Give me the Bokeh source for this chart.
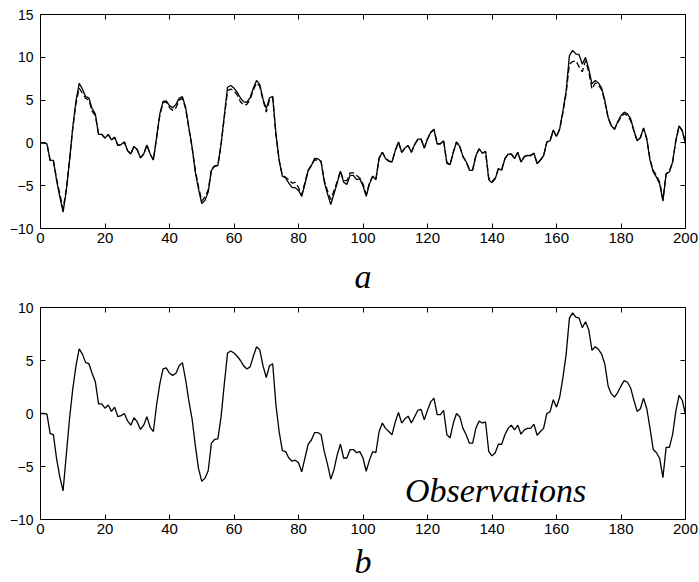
from bokeh.plotting import figure
from bokeh.models import Range1d, FixedTicker, LinearAxis, CustomJSTickFormatter, Label
from bokeh.layouts import column
from bokeh.embed import file_html
from bokeh.resources import INLINE

# ---------------- data ----------------
t = list(range(201))

a_solid = [
    0, 0, -0.1, -2.0, -2.05, -4.4, -6.3, -8.1, -5.6, -2.1,
    1.8, 4.9, 6.95, 6.3, 5.4, 5.25, 4.0, 3.4, 1.0, 1.0,
    0.55, 1.0, 0.35, 0.65, -0.3, -0.2, 0.1, -0.9, -1.3, -0.4,
    -0.8, -1.75, -1.3, -0.25, -1.3, -2.0, 0.65, 3.4, 4.85, 4.9,
    4.35, 4.1, 4.5, 5.2, 5.4, 4.15, 1.8, -0.5, -3.4, -5.4,
    -7.1, -6.7, -5.75, -3.2, -2.7, -2.65, -0.1, 3.2, 6.5, 6.7,
    6.4, 5.9, 5.25, 4.8, 4.75, 5.3, 6.4, 7.3, 6.8, 5.1,
    4.0, 5.25, 5.45, 1.05, -2.05, -3.9, -4.1, -4.7, -5.2, -5.25,
    -5.55, -6.25, -4.8, -3.25, -2.65, -1.8, -1.85, -2.15, -4.6, -5.95,
    -7.2, -5.95, -4.7, -3.3, -4.6, -4.85, -3.8, -3.8, -4.3, -4.2,
    -5.0, -6.25, -4.8, -3.9, -4.3, -1.75, -1.1, -1.85, -2.15, -2.25,
    -0.9, 0.1, -1.1, -0.6, -0.3, -1.1, -0.2, 0.45, 0.45, -0.6,
    0.45, 1.25, 1.6, -0.1, -0.1, 0.25, -2.4, -2.55, -1.1, 0.1,
    -0.4, -1.6, -2.2, -3.2, -3.2, -1.5, -0.7, -1.2, -1.0, -4.3,
    -4.65, -4.2, -3.0, -3.2, -1.85, -1.3, -1.3, -1.85, -1.1, -2.25,
    -1.65, -1.45, -1.5, -1.2, -2.45, -2.0, -1.5, 0.1, 0.25, 1.5,
    0.75, 1.65, 3.75, 6.1, 10.2, 10.8, 10.4, 10.3, 9.2, 10.0,
    8.65, 6.9, 7.3, 7.0, 6.4, 4.95, 3.0, 2.0, 1.6, 2.5,
    3.2, 3.6, 3.4, 2.8, 1.45, 0.25, 0.6, 1.75, 0.45, -2.05,
    -3.4, -4.0, -4.8, -6.8, -3.6, -3.4, -2.25, 0.25, 2.0, 1.45,
    -0.1,
]

a_dashed = [
    0, 0, -0.1, -2.1, -2.1, -4.2, -6.0, -7.7, -5.4, -2.0,
    1.7, 4.6, 6.4, 5.8, 5.2, 5.0, 3.7, 3.2, 1.0, 1.0,
    0.55, 1.0, 0.35, 0.65, -0.3, -0.2, 0.1, -0.9, -1.3, -0.4,
    -0.8, -1.75, -1.3, -0.25, -1.3, -2.0, 0.6, 3.2, 4.7, 4.8,
    4.1, 3.8, 4.1, 5.0, 5.2, 4.0, 1.7, -0.5, -3.2, -5.1,
    -6.8, -6.3, -5.5, -3.1, -2.7, -2.6, -0.2, 3.0, 6.1, 6.3,
    6.1, 5.6, 4.8, 4.4, 4.5, 5.1, 6.2, 7.0, 6.6, 5.0,
    3.6, 5.0, 5.3, 1.0, -2.0, -3.8, -4.0, -4.3, -4.7, -4.6,
    -5.2, -6.1, -4.6, -3.2, -2.6, -2.0, -2.0, -2.2, -4.4, -5.6,
    -6.6, -5.6, -4.5, -3.3, -4.4, -4.4, -3.5, -3.5, -3.8, -4.1,
    -4.8, -6.0, -4.7, -3.9, -4.2, -1.8, -1.1, -1.8, -2.1, -2.2,
    -0.9, 0.1, -1.1, -0.6, -0.3, -1.1, -0.2, 0.4, 0.45, -0.6,
    0.45, 1.2, 1.55, -0.1, -0.1, 0.25, -2.3, -2.5, -1.1, 0.1,
    -0.4, -1.6, -2.2, -3.1, -3.1, -1.5, -0.7, -1.2, -1.0, -4.1,
    -4.5, -4.1, -3.0, -3.1, -1.85, -1.3, -1.3, -1.8, -1.1, -2.2,
    -1.6, -1.4, -1.45, -1.2, -2.4, -2.0, -1.5, 0.1, 0.25, 1.45,
    0.75, 1.6, 3.6, 5.8, 9.2, 9.5, 9.6, 8.9, 8.3, 9.6,
    8.3, 6.3, 7.0, 6.8, 6.2, 4.8, 2.9, 2.0, 1.6, 2.4,
    3.0, 3.4, 3.2, 2.6, 1.4, 0.25, 0.6, 1.7, 0.45, -1.9,
    -3.2, -3.8, -4.6, -6.6, -3.6, -3.3, -2.25, 0.25, 1.9, 1.4,
    -0.1,
]

b_obs = [
    0, 0, -0.05, -1.9, -2.0, -4.3, -6.0, -7.3, -3.9, -0.5,
    2.3, 4.5, 6.1, 5.6, 4.8, 4.7, 3.8, 3.0, 0.9, 0.9,
    0.5, 0.8, 0.2, 0.6, -0.3, -0.2, 0.0, -0.7, -1.1, -0.4,
    -0.8, -1.5, -1.1, -0.3, -1.3, -1.7, 0.8, 2.8, 4.2, 4.3,
    3.8, 3.6, 3.8, 4.5, 4.8, 3.2, 1.2, -0.5, -3.0, -5.2,
    -6.4, -6.1, -5.4, -2.8, -2.45, -2.4, -0.3, 2.8, 5.7, 5.9,
    5.7, 5.4, 5.0, 4.5, 4.2, 4.4, 5.4, 6.3, 6.0, 4.5,
    3.4, 4.5, 4.7, 0.8, -1.7, -3.5, -3.6, -4.2, -4.5, -4.4,
    -4.65, -5.5, -4.2, -2.9, -2.5, -1.8, -1.8, -2.0, -3.6, -4.8,
    -6.2, -5.3, -3.9, -2.9, -4.2, -4.2, -3.4, -3.4, -3.7, -3.6,
    -4.2, -5.45, -4.4, -3.6, -3.7, -1.7, -0.9, -1.4, -1.7, -2.0,
    -0.8, 0.1, -0.9, -0.5, -0.25, -0.9, -0.3, 0.3, 0.4, -0.6,
    0.3, 1.1, 1.45, -0.1, -0.1, 0.3, -2.0, -2.3, -0.9, 0.0,
    -0.3, -1.4, -2.0, -2.8, -2.8, -1.4, -0.7, -0.9, -0.8, -3.6,
    -4.0, -3.7, -2.9, -2.9, -2.0, -1.4, -1.1, -1.55, -1.1, -1.95,
    -1.55, -1.4, -1.4, -1.0, -2.05, -1.7, -1.4, 0.0, 0.15, 1.3,
    0.6, 1.55, 3.4, 5.6, 9.0, 9.5, 9.1, 9.0, 8.1, 8.65,
    7.9, 5.95, 6.3, 6.05, 5.6, 4.65, 2.6, 1.85, 1.55, 2.0,
    2.6, 3.1, 2.95, 2.4, 1.25, 0.2, 0.45, 1.45, 0.45, -1.4,
    -3.4, -3.7, -4.25, -6.05, -3.2, -3.2, -2.0, 0.2, 1.7, 1.25,
    -0.1,
]

x_ticks = [0, 20, 40, 60, 80, 100, 120, 140, 160, 180, 200]
a_y_ticks = [-10, -5, 0, 5, 10, 15]
b_y_ticks = [-10, -5, 0, 5, 10]
panel_a_label = "a"
panel_b_label = "b"
obs_text = "Observations"

TICK_FONT = "Liberation Sans"
SERIF = "Liberation Serif"


def minus_overrides(ticks):
    return {v: ("\u2212" + str(abs(v)) if v < 0 else str(v)) for v in ticks}


def style_axis(ax, ticks, labels=True, size="14px", standoff=6):
    ax.ticker = FixedTicker(ticks=ticks)
    ax.major_tick_in = 5
    ax.major_tick_out = 0
    ax.minor_tick_line_color = None
    ax.axis_line_color = "black"
    ax.axis_line_width = 1
    ax.major_tick_line_color = "black"
    ax.major_tick_line_width = 1
    ax.major_label_text_font = TICK_FONT
    ax.major_label_text_font_size = size
    ax.major_label_text_color = "black"
    ax.major_label_standoff = standoff
    if labels:
        ax.major_label_overrides = minus_overrides(ticks)
    else:
        ax.formatter = CustomJSTickFormatter(code="return ''")
        ax.major_label_standoff = 0


def make_panel(height, ymin, ymax, yticks, top_border, bottom_border, xlabel, label_standoff):
    p = figure(width=699, height=height, output_backend="svg", toolbar_location=None,
               x_range=Range1d(0, 200), y_range=Range1d(ymin, ymax),
               min_border_left=40, min_border_right=14,
               min_border_top=top_border, min_border_bottom=bottom_border)
    p.grid.visible = False
    p.outline_line_color = "black"
    p.outline_line_width = 1
    p.background_fill_color = "white"
    p.border_fill_color = "white"
    style_axis(p.xaxis[0], x_ticks, True, "15px", 4)
    style_axis(p.yaxis[0], yticks, True, "14px", 7)
    p.xaxis[0].axis_label = xlabel
    p.xaxis[0].axis_label_text_font = SERIF
    p.xaxis[0].axis_label_text_font_style = "italic"
    p.xaxis[0].axis_label_text_font_size = "34px"
    p.xaxis[0].axis_label_text_color = "black"
    p.xaxis[0].axis_label_standoff = label_standoff
    top_ax = LinearAxis()
    style_axis(top_ax, x_ticks, False)
    right_ax = LinearAxis()
    style_axis(right_ax, yticks, False)
    p.add_layout(top_ax, "above")
    p.add_layout(right_ax, "right")
    return p


p1 = make_panel(298, -10, 15, a_y_ticks, 14, 70, panel_a_label, 12)
p1.line(t, a_solid, line_color="black", line_width=1.3)
p1.line(t, a_dashed, line_color="black", line_width=1.3, line_dash="6 3")

p2 = make_panel(284, -10, 10, b_y_ticks, 9, 60, panel_b_label, 6)
p2.line(t, b_obs, line_color="black", line_width=1.3)
p2.add_layout(Label(x=113, y=-7.3, text=obs_text, text_font=SERIF,
                    text_font_style="italic", text_font_size="34px",
                    text_color="black", text_baseline="alphabetic"))

layout = column(p1, p2)
open("out.html", "w").write(file_html(layout, INLINE))
